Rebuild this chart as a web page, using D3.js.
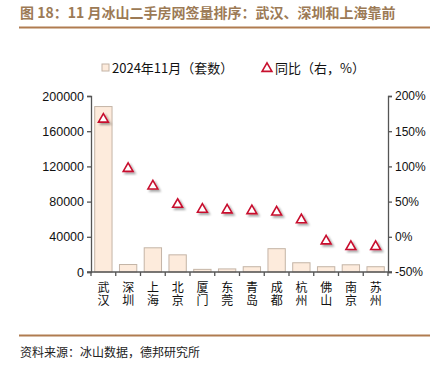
<!DOCTYPE html>
<html>
<head>
<meta charset="utf-8">
<script src="https://cdn.jsdelivr.net/npm/d3@7"></script>
<style>
  body { margin: 0; background: #fff; }
  svg text { font-family: Arial, "Liberation Sans", "Noto Sans CJK SC", sans-serif; }
  .cjk { font-family: "Noto Sans CJK SC", sans-serif; }
</style>
</head>
<body>
<div id="chart"></div>
<script>
const cities = ["武汉", "深圳", "上海", "北京", "厦门", "东莞", "青岛", "成都", "杭州", "佛山", "南京", "苏州"];
const volume = [188000, 8500, 27500, 19500, 3000, 3500, 6000, 26500, 10500, 6000, 8200, 6000];
const yoy = [167, 97, 72, 46, 39, 38, 37, 35, 24, -6, -14, -14];
const leftTicks = [0, 40000, 80000, 120000, 160000, 200000];
const rightTicks = [-50, 0, 50, 100, 150, 200];

const W = 448, H = 374;
const margin = { left: 91, right: 60, top: 96, bottom: 102 };
const width = W - margin.left - margin.right;
const height = H - margin.top - margin.bottom;

const svg = d3.select("#chart").append("svg")
    .attr("width", W)
    .attr("height", H);

const defs = svg.append("defs");
const shadow = defs.append("filter").attr("id", "shadow")
    .attr("x", "-50%").attr("y", "-50%").attr("width", "200%").attr("height", "200%");
shadow.append("feDropShadow")
    .attr("dx", 2).attr("dy", 2).attr("stdDeviation", 1.2)
    .attr("flood-color", "#000").attr("flood-opacity", 0.35);

// title
svg.append("text")
    .attr("class", "cjk")
    .attr("x", 20).attr("y", 18)
    .attr("font-size", 14).attr("font-weight", "bold")
    .attr("fill", "#9c7a55")
    .text("图 18：11 月冰山二手房网签量排序：武汉、深圳和上海靠前");
svg.append("line")
    .attr("x1", 19).attr("x2", 430).attr("y1", 27.5).attr("y2", 27.5)
    .attr("stroke", "#b07c50").attr("stroke-width", 2);

const g = svg.append("g").attr("transform", `translate(${margin.left},${margin.top})`);

const x = d3.scaleBand().domain(cities).range([0, width]).paddingInner(0.3).paddingOuter(0.15);
const y = d3.scaleLinear().domain([0, 200000]).range([height, 0]);
const y2 = d3.scaleLinear().domain([-50, 200]).range([height, 0]);

// bars
g.selectAll("rect.bar")
    .data(cities)
    .join("rect")
    .attr("class", "bar")
    .attr("x", d => x(d))
    .attr("width", x.bandwidth())
    .attr("y", (d, i) => y(volume[i]))
    .attr("height", (d, i) => height - y(volume[i]))
    .attr("fill", "#fdebdc")
    .attr("stroke", "#c4b4a6")
    .attr("stroke-width", 1);

// left axis
const axisColor = "#555";
const yAxis = g.append("g")
    .call(d3.axisLeft(y).tickValues(leftTicks).tickSize(4).tickPadding(3).tickFormat(d3.format("d")));
yAxis.selectAll("text").attr("font-size", 12.5).attr("fill", "#111");
yAxis.select(".domain").attr("stroke", axisColor).attr("stroke-width", 1.3);
yAxis.selectAll(".tick line").attr("stroke", axisColor).attr("stroke-width", 1.3);

// right axis
const y2Axis = g.append("g")
    .attr("transform", `translate(${width},0)`)
    .call(d3.axisRight(y2).tickValues(rightTicks).tickSize(4).tickPadding(3).tickFormat(d => d + "%"));
y2Axis.selectAll("text").attr("font-size", 12).attr("fill", "#111");
y2Axis.select(".domain").attr("stroke", axisColor).attr("stroke-width", 1.3);
y2Axis.selectAll(".tick line").attr("stroke", axisColor).attr("stroke-width", 1.3);

// bottom axis
const bx = g.append("g").attr("transform", `translate(0,${height})`);
bx.append("line")
    .attr("x1", -4).attr("x2", width + 4)
    .attr("stroke", axisColor).attr("stroke-width", 1.3);
bx.selectAll("line.tick")
    .data(d3.range(cities.length + 1))
    .join("line")
    .attr("class", "tick")
    .attr("x1", i => i * width / cities.length)
    .attr("x2", i => i * width / cities.length)
    .attr("y1", 0).attr("y2", 4)
    .attr("stroke", axisColor).attr("stroke-width", 1.3);
// vertical city names (one text each, written top to bottom)
bx.selectAll("text.lab")
    .data(cities)
    .join("text")
    .attr("class", "lab cjk")
    .attr("x", d => x(d) + x.bandwidth() / 2)
    .attr("y", 9)
    .attr("font-size", 12)
    .attr("fill", "#111")
    .style("writing-mode", "vertical-rl")
    .style("text-orientation", "upright")
    .style("letter-spacing", "1.5px")
    .text(d => d);

// triangles
const tri = d3.symbol().type(d3.symbolTriangle).size(42);
g.selectAll("path.tri")
    .data(cities)
    .join("path")
    .attr("class", "tri")
    .attr("d", tri)
    .attr("transform", (d, i) => `translate(${x(d) + x.bandwidth() / 2},${y2(yoy[i])})`)
    .attr("fill", "#fff")
    .attr("stroke", "#c8102e")
    .attr("stroke-width", 1.6)
    .attr("filter", "url(#shadow)");

// legend
const lg = svg.append("g").attr("transform", "translate(0,68)");
lg.append("rect")
    .attr("x", 102).attr("y", -4).attr("width", 7).attr("height", 7)
    .attr("fill", "#fdebdc").attr("stroke", "#c4b4a6");
lg.append("text")
    .attr("class", "cjk")
    .attr("x", 112).attr("y", 5)
    .attr("font-size", 13).attr("fill", "#111")
    .text("2024年11月（套数）");
lg.append("path")
    .attr("d", tri)
    .attr("transform", "translate(267,0.5)")
    .attr("fill", "#fff").attr("stroke", "#c8102e").attr("stroke-width", 1.6);
lg.append("text")
    .attr("class", "cjk")
    .attr("x", 275).attr("y", 5)
    .attr("font-size", 13).attr("fill", "#111")
    .text("同比（右，%）");

// source
svg.append("line")
    .attr("x1", 19).attr("x2", 430).attr("y1", 335.5).attr("y2", 335.5)
    .attr("stroke", "#b07c50").attr("stroke-width", 2);
svg.append("text")
    .attr("class", "cjk")
    .attr("x", 20).attr("y", 357)
    .attr("font-size", 12).attr("fill", "#222")
    .text("资料来源：冰山数据，德邦研究所");
</script>
</body>
</html>
